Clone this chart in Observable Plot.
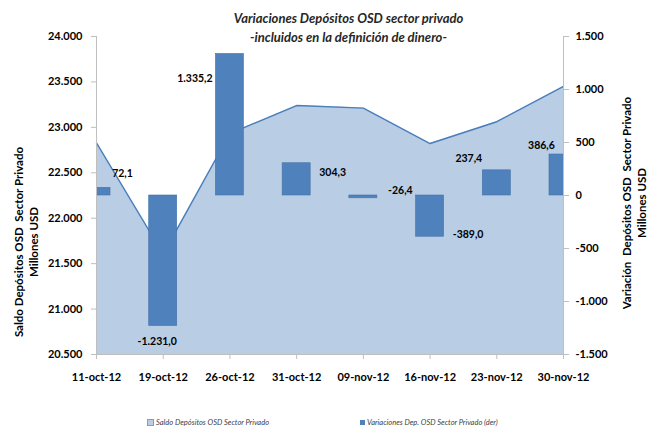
<!DOCTYPE html>
<html>
<head>
<meta charset="utf-8">
<script src="https://cdn.jsdelivr.net/npm/d3@7"></script>
<script src="https://cdn.jsdelivr.net/npm/@observablehq/plot@0.6"></script>
<style>
  html, body { margin: 0; padding: 0; background: #fff; }
  #wrap { position: relative; width: 657px; height: 429px; font-family: Lato, "Liberation Sans", sans-serif; color: #000; overflow: hidden; }
  .title { position: absolute; left: 20px; width: 657px; text-align: center; font-weight: bold; font-style: italic; font-size: 13px; color: #262626; white-space: nowrap; }
  .ytitle { position: absolute; width: 300px; text-align: center; font-weight: bold; font-size: 11.5px; line-height: 15px; white-space: nowrap; transform: rotate(-90deg); transform-origin: 50% 50%; }
  .legend { position: absolute; top: 418px; font-size: 7.5px; font-style: italic; color: #404040; white-space: nowrap; display: flex; align-items: center; }
  .sw { display: inline-block; width: 5px; height: 5px; margin-right: 2px; }
</style>
</head>
<body>
<div id="wrap"></div>
<script>
// ---- data ----
const dates = ["11-oct-12", "19-oct-12", "26-oct-12", "31-oct-12", "09-nov-12", "16-nov-12", "23-nov-12", "30-nov-12"];
const saldo = [22828, 21605, 22932, 23240, 23212, 22822, 23062, 23450];      // left axis (Millones USD)
const variacion = [72.1, -1231.0, 1335.2, 304.3, -26.4, -389.0, 237.4, 386.6]; // right axis (der)
const leftTicks = [20500, 21000, 21500, 22000, 22500, 23000, 23500, 24000];
const rightTicks = [-1500, -1000, -500, 0, 500, 1000, 1500];

// label nudges (styling, pixels) for the data labels
const labelNudge = [[26, -14], [-6, 16], [-35, 25], [36, 9], [37, -8], [38, -2], [-28, -12], [-22, -9]];

const loc = d3.formatLocale({decimal: ",", thousands: ".", grouping: [3], currency: ["$", ""], minus: "-"});
const fmt0 = loc.format(",.0f");
const fmt1 = loc.format(",.1f");

// map right-axis values onto the left-axis scale
const L0 = leftTicks[0], L1 = leftTicks[leftTicks.length - 1];
const R0 = rightTicks[0], R1 = rightTicks[rightTicks.length - 1];
const toLeft = v => L0 + (v - R0) * (L1 - L0) / (R1 - R0);
const toRight = y => R0 + (y - L0) * (R1 - R0) / (L1 - L0);
const base = toLeft(0);

const rows = dates.map((d, i) => ({i, date: d, saldo: saldo[i], v: variacion[i], tip: toLeft(variacion[i])}));

const axisColor = "#bfbfbf";
const half = 0.21;

const labelMarks = rows.map((r, k) => Plot.text([r], {
  x: "i", y: "tip", text: d => fmt1(d.v),
  dx: labelNudge[k][0], dy: labelNudge[k][1],
  fontWeight: "bold", fontSize: 10.5, fill: "#000"
}));

const chart = Plot.plot({
  width: 657, height: 429,
  marginLeft: 96, marginRight: 94, marginTop: 36, marginBottom: 75,
  x: {domain: [0, dates.length - 1], axis: null},
  y: {domain: [L0, L1], axis: null},
  style: {fontFamily: "Lato, 'Liberation Sans', sans-serif", background: "transparent", overflow: "visible"},
  marks: [
    Plot.areaY(rows, {x: "i", y1: () => L0, y2: "saldo", fill: "#b9cde5"}),
    Plot.lineY(rows, {x: "i", y: "saldo", stroke: "#4a7ebb", strokeWidth: 1.4}),
    Plot.rectY(rows, {x1: d => d.i - half, x2: d => d.i + half, y1: () => base, y2: "tip",
      fill: "#4f81bd", stroke: "#4572a7", strokeWidth: 0.6, clip: "frame"}),
    Plot.ruleX([0, dates.length - 1], {stroke: axisColor}),
    Plot.ruleY([L0], {stroke: axisColor}),
    Plot.axisY(leftTicks, {anchor: "left", tickSize: 5, tickPadding: 9, tickFormat: fmt0,
      stroke: axisColor, fill: "#000", fontWeight: "bold", fontSize: 11, label: null}),
    Plot.axisY(rightTicks.map(toLeft), {anchor: "right", tickSize: 5, tickPadding: 7,
      tickFormat: y => fmt0(Math.round(toRight(y))),
      stroke: axisColor, fill: "#000", fontWeight: "bold", fontSize: 11, label: null}),
    Plot.axisX(d3.range(dates.length), {anchor: "bottom", tickSize: 5, tickPadding: 14,
      tickFormat: i => dates[i], stroke: axisColor, fill: "#000", fontWeight: "bold", fontSize: 11, label: null}),
    ...labelMarks
  ]
});

const wrap = document.getElementById("wrap");
chart.style.position = "absolute";
chart.style.left = "0";
chart.style.top = "0";
wrap.appendChild(chart);

function addDiv(cls, html, css) {
  const el = document.createElement("div");
  el.className = cls;
  el.innerHTML = html;
  Object.assign(el.style, css);
  wrap.appendChild(el);
  return el;
}

addDiv("title", "Variaciones Depósitos OSD sector privado", {top: "10px"});
addDiv("title", "-incluidos en la definición de dinero-", {top: "29px"});

// left axis title (centre ~ x 26, y 242)
addDiv("ytitle", "Saldo Depósitos OSD&nbsp; Sector Privado<br>Millones USD", {left: (26 - 150) + "px", top: (242 - 15) + "px"});
// right axis title (centre ~ x 634, y 203)
addDiv("ytitle", "Variación&nbsp; Depósitos OSD&nbsp; Sector Privado<br>Millones USD", {left: (634 - 150) + "px", top: (203 - 15) + "px"});

addDiv("legend", '<span class="sw" style="background:#b9cde5;border:0.5px solid #7f9fc8"></span>Saldo Depósitos OSD Sector Privado', {left: "147px"});
addDiv("legend", '<span class="sw" style="background:#4f81bd"></span>Variaciones Dep. OSD Sector Privado (der)', {left: "360px"});
</script>
</body>
</html>
